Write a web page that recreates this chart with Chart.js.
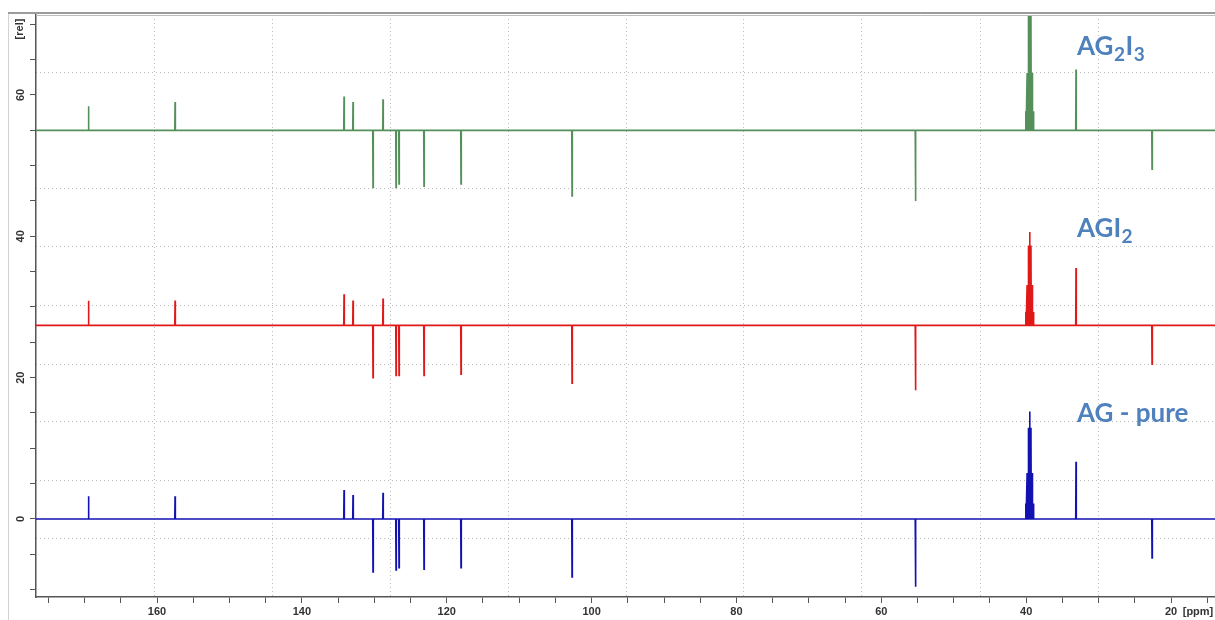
<!DOCTYPE html>
<html>
<head>
<meta charset="utf-8">
<script src="https://cdn.jsdelivr.net/npm/chart.js@4/dist/chart.umd.min.js"></script>
<style>
  html, body { margin: 0; padding: 0; background: #ffffff; }
  canvas { display: block; }
</style>
</head>
<body>
<canvas id="spectra" width="1215" height="620"></canvas>
<script>
// Chemical shift window (ppm), high field on the right
const ppmLeft = 176.71;
const ppmRight = 13.93;
// Intensity window [rel]
const relMin = -11.04;
const relMax = 71.32;

// Resolved 13C lines (ppm), common to the three spectra
const peakShifts = [169.46, 157.51, 134.18, 132.94, 130.18, 128.80, 127.00, 126.59, 123.14, 118.03, 102.70, 55.28, 33.12, 22.62];
// Signed line heights measured from each trace's own baseline
const heightsPure  = [3.2, 3.2, 4.1, 3.4, -7.5, 3.7, -7.2, -6.9, -7.1, -6.9, -8.2, -9.6, 8.1, -5.5];
const heightsAGI2  = [3.5, 3.5, 4.4, 3.5, -7.4, 3.8, -7.1, -7.1, -7.1, -6.9, -8.2, -9.2, 8.1, -5.5];
const heightsAG2I3 = [3.4, 4.0, 4.8, 4.0, -8.1, 4.4, -8.1, -7.6, -7.9, -7.6, -9.3, -10.0, 8.6, -5.5];

// DMSO-d6 solvent septet
const solventShifts = [40.05, 39.87, 39.70, 39.52, 39.34, 39.17, 38.99];
const solventPure  = [2.2, 6.5, 12.9, 15.2, 12.9, 6.5, 2.2];
const solventAGI2  = [1.9, 5.7, 11.3, 13.2, 11.3, 5.7, 1.9];
const solventAG2I3 = [2.7, 8.1, 16.3, 19.0, 16.3, 8.1, 2.7];

// Stacking offset of each trace
const baselines = [0, 27.4, 55.0];
const traceNames = ['AG - pure', 'AGI2', 'AG2I3'];

// Axis ticks
const ppmTickStep = 5;
const ppmLabelStep = 20;
const relTickStep = 5;
const relLabelStep = 20;

// Dotted plot grid
const gridPpm = [160.41, 144.12, 127.83, 111.54, 95.25, 78.96, 62.67, 46.37, 30.08];
const gridRel = [63.25, 54.99, 46.70, 38.49, 30.14, 21.93, 13.73, 5.38, -2.83];

const traceColors = ['#1212b2', '#e01818', '#55905a'];

// Each line is drawn as a narrow spike rising from the trace baseline
function buildTrace(base, heights, solvent) {
  const lines = peakShifts.map((p, i) => ({ ppm: p, h: heights[i] }))
    .concat(solventShifts.map((p, i) => ({ ppm: p, h: solvent[i] })))
    .sort((a, b) => b.ppm - a.ppm);
  const halfWidth = 0.04;
  const pts = [{ x: ppmLeft, y: base }];
  lines.forEach(l => {
    pts.push({ x: l.ppm + halfWidth, y: base });
    pts.push({ x: l.ppm, y: base + l.h });
    pts.push({ x: l.ppm - halfWidth, y: base });
  });
  pts.push({ x: ppmRight, y: base });
  return pts;
}

const traceHeights = [heightsPure, heightsAGI2, heightsAG2I3];
const traceSolvent = [solventPure, solventAGI2, solventAG2I3];

const datasets = traceNames.map((name, i) => ({
  label: name,
  data: buildTrace(baselines[i], traceHeights[i], traceSolvent[i]),
  borderColor: traceColors[i],
  backgroundColor: traceColors[i],
  borderWidth: 1.6,
  pointRadius: 0,
  tension: 0,
  fill: false
}));

// Sample labels with subscripts: [text, isSubscript]
const sampleLabels = [
  { parts: [['AG - pure', false]], ppm: 32.98, rel: 13.7 },
  { parts: [['AGI', false], ['2', true]], ppm: 32.98, rel: 39.9 },
  { parts: [['AG', false], ['2', true], ['I', false], ['3', true]], ppm: 32.98, rel: 65.7 }
];

const tickFont = { family: "'Liberation Sans', Arial, sans-serif", size: 11, weight: 'bold' };

const decorPlugin = {
  id: 'decor',
  afterDraw(chart) {
    const ctx = chart.ctx;
    const { left, top } = chart.chartArea;
    const xs = chart.scales.x, ys = chart.scales.y;
    ctx.save();
    // window frame
    ctx.strokeStyle = '#d2d2d2';
    ctx.lineWidth = 1;
    ctx.beginPath(); ctx.moveTo(8.5, top - 3); ctx.lineTo(8.5, chart.height); ctx.stroke();
    ctx.strokeStyle = '#9c9c9c';
    ctx.lineWidth = 2;
    ctx.beginPath(); ctx.moveTo(8, top - 2); ctx.lineTo(chart.width, top - 2); ctx.stroke();
    ctx.strokeStyle = '#bdbdbd';
    ctx.lineWidth = 1;
    ctx.beginPath(); ctx.moveTo(left, top + 0.5); ctx.lineTo(chart.width, top + 0.5); ctx.stroke();

    // axis unit labels
    ctx.fillStyle = '#333333';
    ctx.font = "bold 11px 'Liberation Sans', Arial, sans-serif";
    ctx.textAlign = 'center';
    ctx.textBaseline = 'middle';
    ctx.fillText('[ppm]', 1198, 612);
    ctx.save();
    ctx.translate(20, 29);
    ctx.rotate(-Math.PI / 2);
    ctx.fillText('[rel]', 0, 0);
    ctx.restore();

    // sample labels
    ctx.fillStyle = '#4f81bd';
    ctx.textAlign = 'left';
    ctx.textBaseline = 'alphabetic';
    sampleLabels.forEach(lab => {
      let x = xs.getPixelForValue(lab.ppm);
      const y = ys.getPixelForValue(lab.rel);
      lab.parts.forEach(([txt, sub]) => {
        ctx.font = sub ? "bold 19px Lato, 'Open Sans', sans-serif" : "bold 26px Lato, 'Open Sans', sans-serif";
        ctx.fillText(txt, x, sub ? y + 6 : y);
        x += ctx.measureText(txt).width + 0.5;
      });
    });
    ctx.restore();
  }
};

new Chart(document.getElementById('spectra'), {
  type: 'line',
  data: { datasets },
  options: {
    responsive: false,
    animation: false,
    devicePixelRatio: 1,
    layout: { padding: { top: 15, left: 0, right: 0, bottom: 0 } },
    plugins: { legend: { display: false }, tooltip: { enabled: false } },
    scales: {
      x: {
        type: 'linear', position: 'bottom', reverse: true,
        min: ppmRight, max: ppmLeft,
        ticks: {
          stepSize: ppmTickStep, includeBounds: false, autoSkip: false,
          minRotation: 0, maxRotation: 0, padding: 2, color: '#333333', font: tickFont,
          callback: v => (Math.round(v) % ppmLabelStep === 0 ? String(Math.round(v)) : '')
        },
        grid: { drawOnChartArea: false, drawTicks: true, tickLength: 6, tickColor: '#555555', tickWidth: 1 },
        border: { display: true, color: '#555555', width: 1.5 },
        afterFit: s => { s.height = 23; s.paddingLeft = 0; s.paddingRight = 0; }
      },
      y: {
        type: 'linear', position: 'left',
        min: relMin, max: relMax,
        ticks: {
          stepSize: relTickStep, includeBounds: false, autoSkip: false,
          minRotation: 90, maxRotation: 90, crossAlign: 'center', padding: 3,
          color: '#333333', font: tickFont,
          callback: v => (Math.round(v) % relLabelStep === 0 ? String(Math.round(v)) : '')
        },
        grid: { drawOnChartArea: false, drawTicks: true, tickLength: 6, tickColor: '#555555', tickWidth: 1 },
        border: { display: true, color: '#555555', width: 1.5 },
        afterFit: s => { s.width = 36; s.paddingTop = 0; s.paddingBottom = 0; }
      },
      xg: {
        type: 'linear', position: 'top', reverse: true,
        min: ppmRight, max: ppmLeft,
        ticks: { display: false },
        grid: { drawOnChartArea: true, drawTicks: false, color: '#bcbcbc', lineWidth: 1 },
        border: { display: false, dash: [1, 3] },
        afterBuildTicks: s => { s.ticks = gridPpm.map(v => ({ value: v })); },
        afterFit: s => { s.height = 0; }
      },
      yg: {
        type: 'linear', position: 'right',
        min: relMin, max: relMax,
        ticks: { display: false },
        grid: { drawOnChartArea: true, drawTicks: false, color: '#bcbcbc', lineWidth: 1 },
        border: { display: false, dash: [1, 3] },
        afterBuildTicks: s => { s.ticks = gridRel.map(v => ({ value: v })); },
        afterFit: s => { s.width = 0; }
      }
    }
  },
  plugins: [decorPlugin]
});
</script>
</body>
</html>
